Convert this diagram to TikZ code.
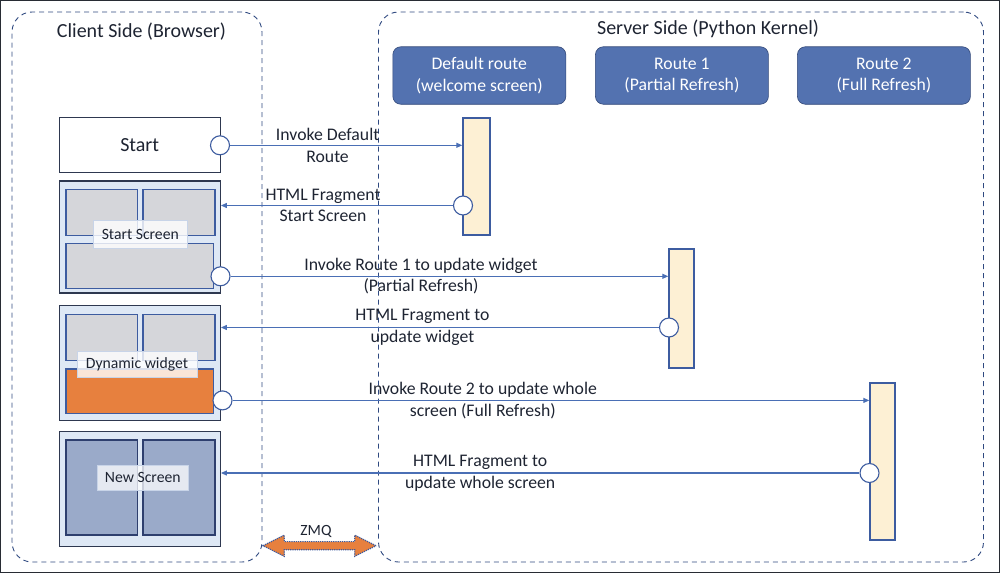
\documentclass[tikz,border=0pt]{standalone}
\usepackage{fontspec}
\setmainfont{Carlito}
\usetikzlibrary{arrows.meta,shapes.arrows}

\definecolor{routeblue}{RGB}{83,114,176}
\definecolor{routeedge}{RGB}{50,72,120}
\definecolor{lineblue}{RGB}{74,111,181}
\definecolor{edgeblue}{RGB}{61,92,160}
\definecolor{dashblue}{RGB}{47,73,128}
\definecolor{barfill}{RGB}{253,240,212}
\definecolor{screenfill}{RGB}{222,232,245}
\definecolor{screenedge}{RGB}{46,56,80}
\definecolor{panelgrey}{RGB}{213,214,218}
\definecolor{widgetorange}{RGB}{231,128,62}
\definecolor{newpanel}{RGB}{154,170,201}
\definecolor{newedge}{RGB}{46,63,110}
\definecolor{labeledge}{RGB}{200,212,232}
\definecolor{textdark}{RGB}{30,36,50}
\definecolor{framedark}{RGB}{40,44,52}

\begin{document}
\begin{tikzpicture}[x=1pt, y=-1pt,
  side/.style={draw=dashblue, dash pattern=on 5pt off 4pt, line width=0.9pt,
    rounded corners=20pt, minimum height=550pt, inner sep=0pt},
  title/.style={text=textdark, font=\fontsize{20}{24}\selectfont, anchor=base},
  route/.style={fill=routeblue, draw=routeedge, line width=0.6pt, rounded corners=8pt,
    minimum width=173pt, minimum height=57.5pt, text=white, align=center,
    font=\fontsize{17.7}{21.5}\selectfont},
  screen/.style={fill=screenfill, draw=screenedge, line width=1.1pt,
    minimum width=161.3pt, inner sep=0pt},
  panel/.style={fill=panelgrey, draw=edgeblue, line width=1.4pt, inner sep=0pt},
  tag/.style={fill=white, fill opacity=0.8, text opacity=1, draw=labeledge,
    line width=0.8pt, inner sep=0pt, text=textdark, font=\fontsize{15.7}{19}\selectfont},
  bar/.style={fill=barfill, draw=edgeblue, line width=1.4pt, inner sep=0pt},
  port/.style={circle, fill=white, draw=edgeblue, line width=1.1pt,
    minimum size=19pt, inner sep=0pt},
  msg/.style={draw=lineblue, line width=1.1pt, -{Triangle[length=6pt,width=5pt]}},
  msgtext/.style={text=textdark, align=center, font=\fontsize{17.7}{21.5}\selectfont}
]

\useasboundingbox (0,0) rectangle (1000,573);
\draw [framedark, line width=1.2pt] (0.6,0.6) rectangle (999.4,572.4);

\node [side, minimum width=250pt] (client) at (137,287) {};
\node [side, minimum width=605pt] (server) at (681,287) {};
\node [title] (clienttitle) at (141.5,37) {Client Side (Browser)};
\node [title] (servertitle) at (708,34.5) {Server Side (Python Kernel)};

\node [route] (default) at (479.3,75.5) {Default route\\(welcome screen)};
\node [route] (route1) at (681.9,75.5) {Route 1\\(Partial Refresh)};
\node [route] (route2) at (883.9,75.5) {Route 2\\(Full Refresh)};

\node [fill=white, draw=screenedge, line width=1.1pt, minimum width=161.3pt,
  minimum height=55pt, text=textdark, font=\fontsize{20}{24}\selectfont]
  (start) at (139.7,145.2) {Start};

\node [screen, minimum height=112pt] (startscreen) at (139.7,237) {};
\node [panel, minimum width=71.7pt, minimum height=46pt] (ss1) at (101.9,212.3) {};
\node [panel, minimum width=72pt, minimum height=46pt] (ss2) at (179,212.3) {};
\node [panel, minimum width=147.7pt, minimum height=45pt] (ss3) at (139.9,265.7) {};
\node [tag, minimum width=94pt, minimum height=28pt] (sslabel) at (140.3,234.5) {Start Screen};

\node [screen, minimum height=114.3pt] (dynamic) at (139.7,362.9) {};
\node [panel, minimum width=71.7pt, minimum height=46.4pt] (dw1) at (101.9,337.5) {};
\node [panel, minimum width=72pt, minimum height=46.4pt] (dw2) at (179,337.5) {};
\node [panel, fill=widgetorange, minimum width=147.7pt, minimum height=44.3pt] (dw3) at (139.9,391.2) {};
\node [tag, minimum width=120pt, minimum height=26pt] (dwlabel) at (137,364) {Dynamic widget};

\node [screen, minimum height=114.3pt] (newscreen) at (139.7,488.9) {};
\node [panel, fill=newpanel, draw=newedge, line width=1.2pt, minimum width=71.7pt,
  minimum height=95pt] (ns1) at (101.9,487.5) {};
\node [panel, fill=newpanel, draw=newedge, line width=1.2pt, minimum width=72pt,
  minimum height=95pt] (ns2) at (179,487.5) {};
\node [tag, fill opacity=0.75, minimum width=91.7pt, minimum height=25.7pt] (nslabel) at (142.8,477.8) {New Screen};

\node [bar, minimum width=27pt, minimum height=117pt] (bar0) at (476.5,176.5) {};
\node [bar, minimum width=25pt, minimum height=119pt] (bar1) at (681.5,308.5) {};
\node [bar, minimum width=25pt, minimum height=157pt] (bar2) at (882.5,461.5) {};

\node [port] (c1) at (220,145.3) {};
\node [port] (c2) at (220.5,276.3) {};
\node [port] (c3) at (222.5,400.4) {};
\node [port] (r0) at (463,205.5) {};
\node [port] (r1) at (669,327.5) {};
\node [port] (r2) at (869.5,473) {};

\draw [msg] (c1.east) -- (c1 -| bar0.west)
  node [msgtext, pos=0.42] {Invoke Default\\Route};
\draw [msg] (r0.west) -- (r0 -| startscreen.east)
  node [msgtext, pos=0.56] {HTML Fragment\\Start Screen};
\draw [msg] (c2.east) -- (c2 -| bar1.west)
  node [msgtext, pos=0.435] {Invoke Route 1 to update widget\\(Partial Refresh)};
\draw [msg] (r1.west) -- (r1 -| dynamic.east)
  node [msgtext, pos=0.54] {HTML Fragment to\\update widget};
\draw [msg] (c3.east) -- (c3 -| bar2.west)
  node [msgtext, pos=0.393] {Invoke Route 2 to update whole\\screen (Full Refresh)};
\draw [msg] (r2.west) -- (r2 -| newscreen.east)
  node [msgtext, pos=0.594] {HTML Fragment to\\update whole screen};

\node [double arrow, fill=widgetorange, draw=edgeblue, densely dotted, line width=1.2pt,
  minimum height=113pt, minimum width=20pt, inner sep=3.5pt,
  double arrow head extend=6.5pt, double arrow tip angle=53] (zmq) at (319.5,545.7) {};
\node [text=textdark, font=\fontsize{15.6}{19}\selectfont] (zmqlabel) at (316,531) {ZMQ};

\end{tikzpicture}
\end{document}
